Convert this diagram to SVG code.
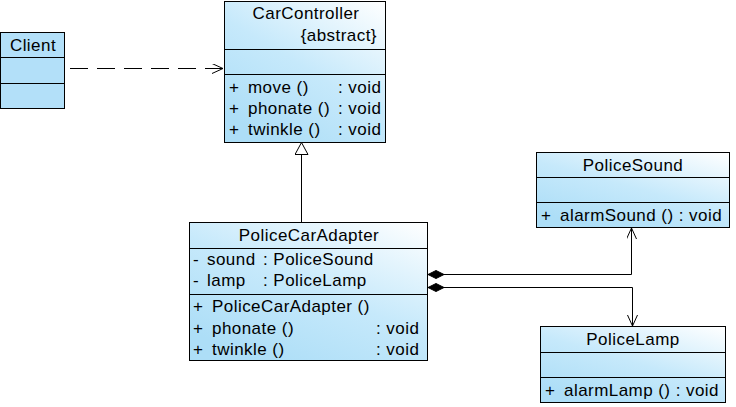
<svg xmlns="http://www.w3.org/2000/svg" width="736" height="407" viewBox="0 0 736 407">
<defs>
<linearGradient id="g" x1="1" y1="0" x2="0.3" y2="1">
<stop offset="0" stop-color="#ffffff"/>
<stop offset="0.55" stop-color="#c6e9fb"/>
<stop offset="1" stop-color="#addef7"/>
</linearGradient>
<marker id="open" markerWidth="12" markerHeight="12" refX="11" refY="5" orient="auto" markerUnits="userSpaceOnUse">
<path d="M0,0 L11,5 L0,10" fill="none" stroke="#000" stroke-width="1"/>
</marker>
<marker id="tri" markerWidth="16" markerHeight="16" refX="13" refY="7" orient="auto" markerUnits="userSpaceOnUse">
<path d="M1,0.5 L13,7 L1,13.5 Z" fill="#fff" stroke="#000" stroke-width="1"/>
</marker>
<marker id="dia" markerWidth="22" markerHeight="10" refX="1" refY="5" orient="auto" markerUnits="userSpaceOnUse">
<path d="M1,5 L9,1 L17,5 L9,9 Z" fill="#000" stroke="#000" stroke-width="1"/>
</marker>
</defs>
<style>
.box{fill:url(#g);stroke:#000;stroke-width:1}
.solid{fill:#b3e0f9;stroke:#000;stroke-width:1}
.ln{stroke:#000;stroke-width:1}
text{font-family:"Liberation Sans",Arial,sans-serif;font-size:17px;letter-spacing:0.45px;fill:#000}
.c{text-anchor:middle}
.e{text-anchor:end}
.conn{fill:none;stroke:#000;stroke-width:1}
</style>
<g id="Client">
<rect class="solid" x="0.5" y="32.5" width="64" height="76"/>
<line class="ln" x1="0.5" y1="57.5" x2="64.5" y2="57.5"/>
<line class="ln" x1="0.5" y1="83.5" x2="64.5" y2="83.5"/>
<text x="33" y="51" class="c">Client</text>
</g>
<g id="CarController">
<rect class="box" x="224.5" y="1.5" width="161" height="141"/>
<line class="ln" x1="224.5" y1="49.5" x2="385.5" y2="49.5"/>
<line class="ln" x1="224.5" y1="74.5" x2="385.5" y2="74.5"/>
<text x="306" y="19" class="c">CarController</text>
<text x="377" y="41" class="e">{abstract}</text>
<text x="229" y="93">+</text><text x="248" y="93">move ()</text><text x="338" y="93">: void</text>
<text x="229" y="114">+</text><text x="248" y="114">phonate ()</text><text x="338" y="114">: void</text>
<text x="229" y="135">+</text><text x="248" y="135">twinkle ()</text><text x="338" y="135">: void</text>
</g>
<g id="PoliceCarAdapter">
<rect class="box" x="189.5" y="222.5" width="238" height="138"/>
<line class="ln" x1="189.5" y1="248.5" x2="427.5" y2="248.5"/>
<line class="ln" x1="189.5" y1="294.5" x2="427.5" y2="294.5"/>
<text x="309" y="241" class="c">PoliceCarAdapter</text>
<text x="193" y="265">-</text><text x="207" y="265">sound</text><text x="263" y="265">: PoliceSound</text>
<text x="193" y="286">-</text><text x="207" y="286">lamp</text><text x="263" y="286">: PoliceLamp</text>
<text x="193" y="312">+</text><text x="212" y="312">PoliceCarAdapter ()</text>
<text x="193" y="334">+</text><text x="212" y="334">phonate ()</text><text x="376" y="334">: void</text>
<text x="193" y="355">+</text><text x="212" y="355">twinkle ()</text><text x="376" y="355">: void</text>
</g>
<g id="PoliceSound">
<rect class="box" x="536.5" y="152.5" width="193" height="75"/>
<line class="ln" x1="536.5" y1="177.5" x2="729.5" y2="177.5"/>
<line class="ln" x1="536.5" y1="202.5" x2="729.5" y2="202.5"/>
<text x="633" y="171" class="c">PoliceSound</text>
<text x="541" y="221">+</text><text x="560" y="221">alarmSound () : void</text>
</g>
<g id="PoliceLamp">
<rect class="box" x="540.5" y="326.5" width="185" height="76"/>
<line class="ln" x1="540.5" y1="352.5" x2="725.5" y2="352.5"/>
<line class="ln" x1="540.5" y1="377.5" x2="725.5" y2="377.5"/>
<text x="633" y="345" class="c">PoliceLamp</text>
<text x="545" y="396">+</text><text x="564" y="396">alarmLamp () : void</text>
</g>
<g id="connectors">
<path class="conn" d="M70,68.5 L223,68.5" stroke-dasharray="18,9" marker-end="url(#open)"/>
<path class="conn" d="M301.5,222 L301.5,142.5" marker-end="url(#tri)"/>
<path class="conn" d="M428,274.5 L631.5,274.5 L631.5,228" marker-start="url(#dia)" marker-end="url(#open)"/>
<path class="conn" d="M428,287.5 L632.5,287.5 L632.5,326" marker-start="url(#dia)" marker-end="url(#open)"/>
</g>
</svg>
